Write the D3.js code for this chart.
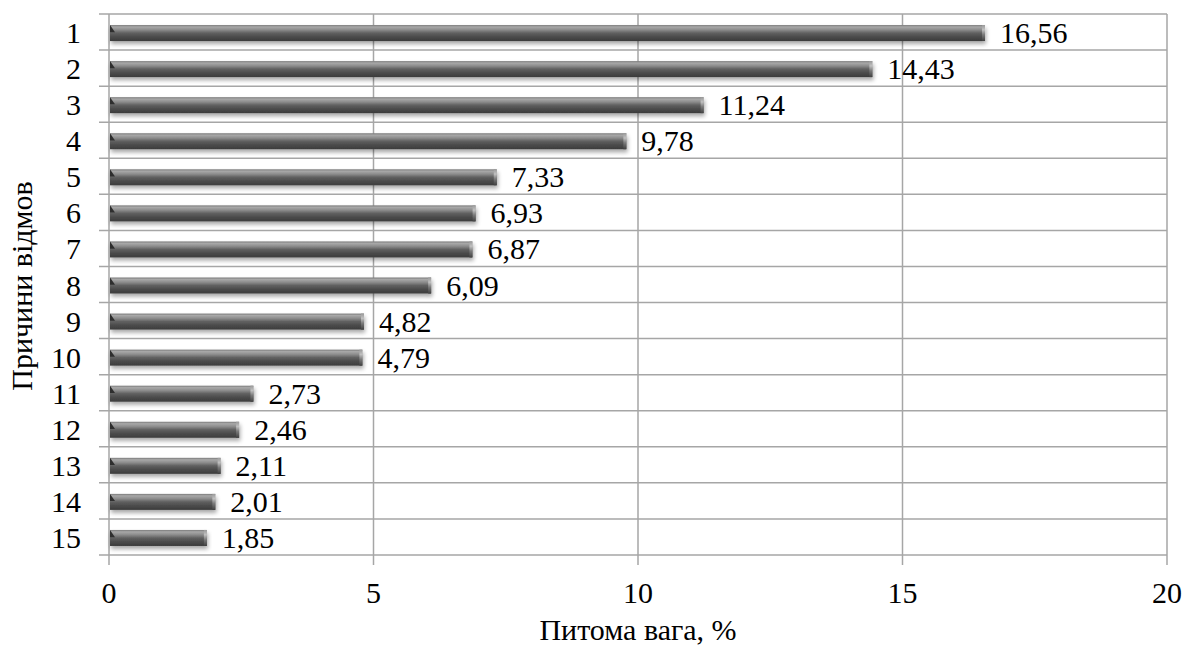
<!DOCTYPE html>
<html>
<head>
<meta charset="utf-8">
<script src="https://cdn.jsdelivr.net/npm/d3@7"></script>
<style>
  svg#chart text { font-family: "Liberation Serif", Tinos, "Times New Roman", Times; }
</style>
</head>
<body style="margin:0">
<svg id="chart" width="1186" height="650"></svg>
<script>
// Failure causes (1..15) and their share, %
const causes = ["1","2","3","4","5","6","7","8","9","10","11","12","13","14","15"];
const shares = [16.56, 14.43, 11.24, 9.78, 7.33, 6.93, 6.87, 6.09, 4.82, 4.79, 2.73, 2.46, 2.11, 2.01, 1.85];
const xTicks = [0, 5, 10, 15, 20];
const xTitle = "Питома вага, %";
const yTitle = "Причини відмов";

const fmt = v => v.toFixed(2).replace(".", ",");

const svg = d3.select("#chart");
const margin = { left: 109, right: 19, top: 14, bottom: 95 };
const W = 1186, H = 650;
const plotW = W - margin.left - margin.right;
const plotH = H - margin.top - margin.bottom;

const x = d3.scaleLinear().domain([0, 20]).range([margin.left, margin.left + plotW]);
const y = d3.scaleBand().domain(causes).range([margin.top, margin.top + plotH]).paddingInner(0).paddingOuter(0);

// Gradients / filters for the cylinder-like bars
const defs = svg.append("defs");
const g1 = defs.append("linearGradient").attr("id", "barGrad").attr("x1", 0).attr("y1", 0).attr("x2", 0).attr("y2", 1);
[[0, "#7a7a7a"], [0.12, "#a8a8a8"], [0.3, "#8c8c8c"], [0.5, "#606060"], [0.75, "#4a4a4a"], [1, "#3c3c3c"]]
  .forEach(([o, c]) => g1.append("stop").attr("offset", o).attr("stop-color", c));
const g2 = defs.append("linearGradient").attr("id", "capGrad").attr("x1", 0).attr("y1", 0).attr("x2", 0).attr("y2", 1);
[[0, "#9a9a9a"], [0.3, "#c0c0c0"], [0.6, "#7a7a7a"], [1, "#404040"]]
  .forEach(([o, c]) => g2.append("stop").attr("offset", o).attr("stop-color", c));
const sh = defs.append("filter").attr("id", "shadow").attr("x", "-5%").attr("y", "-50%").attr("width", "110%").attr("height", "220%");
sh.append("feGaussianBlur").attr("in", "SourceAlpha").attr("stdDeviation", 2).attr("result", "b");
sh.append("feOffset").attr("in", "b").attr("dx", 1).attr("dy", 3).attr("result", "o");
sh.append("feComponentTransfer").attr("in", "o").attr("result", "t")
  .append("feFuncA").attr("type", "linear").attr("slope", 0.35);
const m = sh.append("feMerge");
m.append("feMergeNode").attr("in", "t");
m.append("feMergeNode").attr("in", "SourceGraphic");

// Vertical gridlines (extend a bit below the plot as tick marks)
svg.append("g").selectAll("line").data(xTicks).join("line")
  .attr("x1", d => x(d)).attr("x2", d => x(d))
  .attr("y1", margin.top).attr("y2", margin.top + plotH + 10)
  .attr("stroke", "#a6a6a6").attr("stroke-width", 1.5);

// Horizontal gridlines at category boundaries (extend left as tick marks)
const bounds = causes.map(c => y(c)).concat([margin.top + plotH]);
svg.append("g").selectAll("line").data(bounds).join("line")
  .attr("x1", margin.left - 10).attr("x2", x(20))
  .attr("y1", d => d).attr("y2", d => d)
  .attr("stroke", "#a6a6a6").attr("stroke-width", 1.5);

// Bars
const barH = 16;
const bars = svg.append("g").selectAll("g").data(causes).join("g")
  .attr("filter", "url(#shadow)");
bars.append("rect")
  .attr("x", x(0) + 1)
  .attr("y", d => y(d) + y.bandwidth() / 2 - barH / 2 + 1)
  .attr("width", (d, i) => x(shares[i]) - x(0) - 1)
  .attr("height", barH)
  .attr("fill", "url(#barGrad)");
// right end cap
bars.append("rect")
  .attr("x", (d, i) => x(shares[i]) - 3)
  .attr("y", d => y(d) + y.bandwidth() / 2 - barH / 2 + 1)
  .attr("width", 3)
  .attr("height", barH)
  .attr("fill", "url(#capGrad)");
// left bevel
bars.append("path")
  .attr("d", d => {
    const top = y(d) + y.bandwidth() / 2 - barH / 2 + 1;
    const x0 = x(0) + 1;
    return `M${x0},${top} L${x0 + 5},${top + barH * 0.45} L${x0},${top + barH * 0.45} Z`;
  })
  .attr("fill", "#2e2e2e");

// Value labels
svg.append("g").selectAll("text").data(causes).join("text")
  .attr("x", (d, i) => x(shares[i]) + 15)
  .attr("y", d => y(d) + y.bandwidth() / 2 + 11)
  .attr("font-size", 30)
  .text((d, i) => fmt(shares[i]));

// Category labels
svg.append("g").selectAll("text").data(causes).join("text")
  .attr("x", margin.left - 28)
  .attr("y", d => y(d) + y.bandwidth() / 2 + 11)
  .attr("text-anchor", "end")
  .attr("font-size", 30)
  .text(d => d);

// X tick labels
svg.append("g").selectAll("text").data(xTicks).join("text")
  .attr("x", d => x(d))
  .attr("y", 603)
  .attr("text-anchor", "middle")
  .attr("font-size", 30)
  .text(d => d);

// Axis titles
svg.append("text")
  .attr("x", 638).attr("y", 640)
  .attr("text-anchor", "middle")
  .attr("font-size", 30)
  .text(xTitle);
svg.append("text")
  .attr("transform", `translate(32,286) rotate(-90)`)
  .attr("text-anchor", "middle")
  .attr("font-size", 30)
  .text(yTitle);
</script>
</body>
</html>
